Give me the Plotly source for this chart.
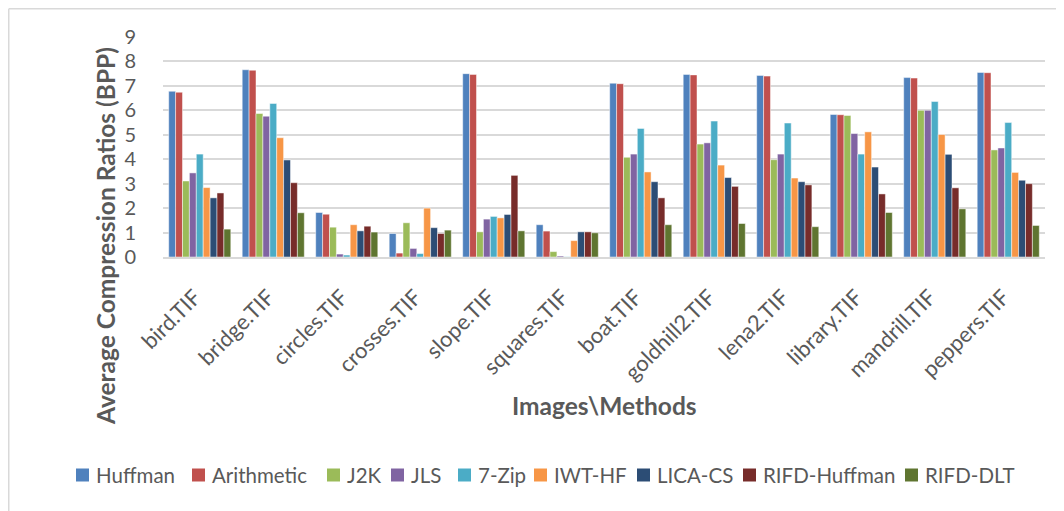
import plotly.graph_objects as go

images = ["bird.TIF", "bridge.TIF", "circles.TIF", "crosses.TIF", "slope.TIF", "squares.TIF",
          "boat.TIF", "goldhill2.TIF", "lena2.TIF", "library.TIF", "mandrill.TIF", "peppers.TIF"]

huffman      = [6.78, 7.66, 1.82, 0.96, 7.50, 1.32, 7.11, 7.47, 7.43, 5.83, 7.34, 7.55]
arithmetic   = [6.74, 7.64, 1.75, 0.16, 7.47, 1.06, 7.09, 7.45, 7.40, 5.82, 7.32, 7.54]
j2k          = [3.11, 5.87, 1.22, 1.40, 1.03, 0.22, 4.08, 4.62, 3.98, 5.79, 6.00, 4.38]
jls          = [3.44, 5.76, 0.12, 0.35, 1.55, 0.04, 4.21, 4.67, 4.21, 5.05, 6.00, 4.46]
zip7         = [4.21, 6.28, 0.08, 0.14, 1.66, 0.01, 5.26, 5.56, 5.48, 4.21, 6.36, 5.50]
iwt_hf       = [2.84, 4.88, 1.32, 2.00, 1.60, 0.67, 3.48, 3.76, 3.23, 5.12, 5.01, 3.46]
lica_cs      = [2.42, 3.97, 1.07, 1.20, 1.74, 1.03, 3.08, 3.25, 3.08, 3.68, 4.20, 3.14]
rifd_huffman = [2.62, 3.04, 1.26, 0.96, 3.34, 1.03, 2.42, 2.89, 2.95, 2.58, 2.83, 3.00]
rifd_dlt     = [1.14, 1.81, 1.02, 1.10, 1.07, 0.99, 1.32, 1.37, 1.24, 1.82, 1.97, 1.29]

series_names = ["Huffman", "Arithmetic", "J2K", "JLS", "7-Zip", "IWT-HF", "LICA-CS",
                "RIFD-Huffman", "RIFD-DLT"]
series_values = [huffman, arithmetic, j2k, jls, zip7, iwt_hf, lica_cs, rifd_huffman, rifd_dlt]
colors = ["#4F81BD", "#C0504D", "#9BBB59", "#8064A2", "#4BACC6", "#F79646", "#2C4D75",
          "#772C2A", "#5F7530"]

FONT = "Lato, 'Open Sans', sans-serif"
TXT = "#595959"

# the page body has an 8px margin; the figure starts at screen (8, 8)
OFF = 8
W, H = 1064 - OFF, 511 - OFF
ML, MT = 163 - OFF, 37 - OFF
MR = W - (1045 - OFF)
MB = H - (257 - OFF)
PW, PH = W - ML - MR, H - MT - MB


def px_x(sx):
    return (sx - OFF - ML) / PW


def px_y(sy):
    return (H - MB - (sy - OFF)) / PH


fig = go.Figure()
for name, vals, col in zip(series_names, series_values, colors):
    fig.add_trace(go.Bar(
        name=name, x=images, y=vals, showlegend=False,
        marker=dict(color=col, line=dict(color="rgba(255,255,255,0.6)", width=0.8)),
    ))

fig.update_layout(
    width=W, height=H,
    barmode="group", bargap=0.155, bargroupgap=0.0,
    paper_bgcolor="white", plot_bgcolor="white",
    margin=dict(l=ML, r=MR, t=MT, b=MB, autoexpand=False),
    font=dict(family=FONT, color=TXT),
    showlegend=False,
)
fig.update_yaxes(range=[0, 9], dtick=1, showgrid=True, gridcolor="#D9D9D9", gridwidth=1.5,
                 zeroline=False, showline=False, ticks="", automargin=False,
                 tickfont=dict(size=20, color=TXT, family=FONT), ticklabelstandoff=26)
fig.update_xaxes(showline=True, linecolor="#D9D9D9", linewidth=1.5, ticks="",
                 tickangle=-45, tickfont=dict(size=22, color=TXT, family=FONT),
                 ticklabelstandoff=17, ticklabelshift=-5, automargin=False)

fig.add_annotation(text="<b>Images\\Methods</b>", x=0.5, xref="paper",
                   y=px_y(405), yref="paper", yanchor="middle", showarrow=False,
                   font=dict(size=24.5, color=TXT, family=FONT))

fig.add_annotation(text="<b>Average Compression Ratios (BPP)</b>", textangle=-90,
                   x=px_x(105), xref="paper", xanchor="center",
                   y=px_y(236), yref="paper", yanchor="middle", showarrow=False,
                   font=dict(size=24.5, color=TXT, family=FONT))

# legend (one row, Excel style)
legend_left = [76, 192, 327, 391, 458, 534, 637, 743, 905]
sw = 13
ly = 475
for name, col, lx in zip(series_names, colors, legend_left):
    fig.add_shape(type="rect", xref="paper", yref="paper",
                  x0=px_x(lx), x1=px_x(lx + sw), y0=px_y(ly - sw / 2), y1=px_y(ly + sw / 2),
                  fillcolor=col, line=dict(width=0))
    fig.add_annotation(text=name, x=px_x(lx + sw + 5), xref="paper", xanchor="left",
                       y=px_y(ly), yref="paper", yanchor="middle", showarrow=False,
                       font=dict(size=20.5, color=TXT, family=FONT))

# chart border (top and left edges visible)
fig.add_shape(type="line", xref="paper", yref="paper",
              x0=px_x(8.75), x1=px_x(1080), y0=px_y(8.75), y1=px_y(8.75),
              line=dict(color="#D9D9D9", width=1.5))
fig.add_shape(type="line", xref="paper", yref="paper",
              x0=px_x(8.75), x1=px_x(8.75), y0=px_y(8.75), y1=px_y(530),
              line=dict(color="#D9D9D9", width=1.5))

fig.write_html("out.html")
